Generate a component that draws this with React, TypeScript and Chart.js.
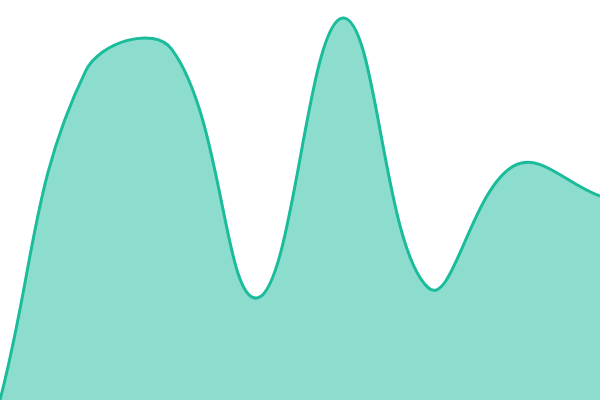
import React, { useEffect, useRef } from "react";
import { Chart, registerables } from "chart.js";

Chart.register(...registerables);

const categories = ["A", "B", "C", "D", "E", "F", "G", "H"];
const values = [0, 82.3, 87.8, 25.5, 95.5, 28, 58.6, 51];

export default function App() {
  const ref = useRef<HTMLCanvasElement | null>(null);
  useEffect(() => {
    document.body.style.margin = "0";
    const chart = new Chart(ref.current!, {
      type: "line",
      data: {
        labels: categories,
        datasets: [
          {
            data: values,
            borderColor: "#1abc9c",
            backgroundColor: "rgba(26,188,156,0.5)",
            borderWidth: 3,
            fill: true,
            tension: 0.4,
            pointRadius: 0,
          },
        ],
      },
      options: {
        animation: false,
        responsive: false,
        layout: { padding: 0 },
        plugins: { legend: { display: false }, tooltip: { enabled: false } },
        scales: {
          x: { display: false },
          y: { display: false, min: 0, max: 100 },
        },
      },
    });
    return () => chart.destroy();
  }, []);
  return (
    <div style={{ position: "fixed", left: 0, top: 0, width: 600, height: 400 }}>
      <canvas ref={ref} width={600} height={400} style={{ width: 600, height: 400 }} />
    </div>
  );
}
